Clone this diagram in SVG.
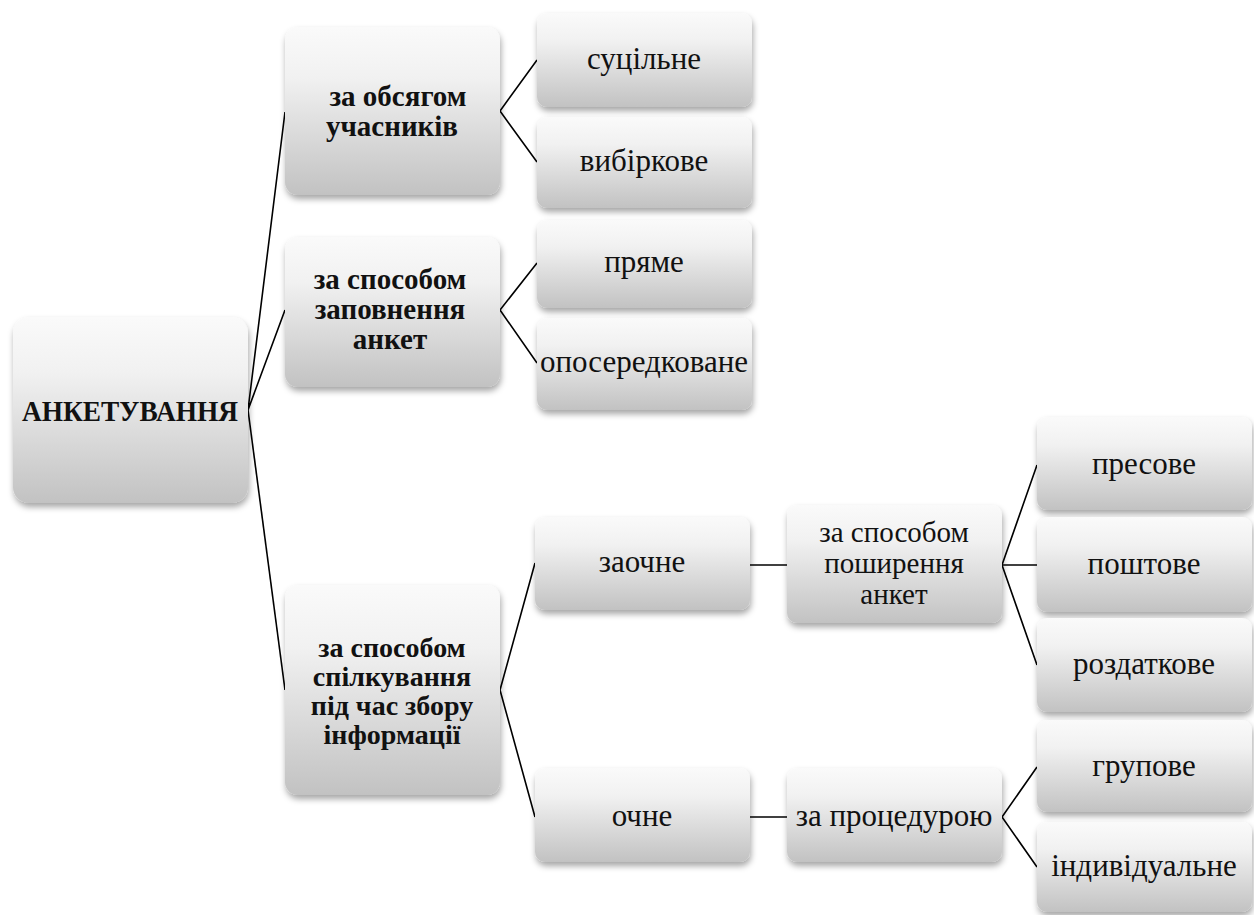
<svg xmlns="http://www.w3.org/2000/svg" width="1254" height="915" viewBox="0 0 1254 915">
  <defs>
    <linearGradient id="boxFill" x1="0" y1="0" x2="0" y2="1">
      <stop offset="0" stop-color="#fafafa"/>
      <stop offset="0.3" stop-color="#f1f1f1"/>
      <stop offset="1" stop-color="#c2c2c2"/>
    </linearGradient>
    <filter id="shadow" x="-10%" y="-10%" width="125%" height="130%">
      <feDropShadow dx="1" dy="4" stdDeviation="3" flood-color="#000" flood-opacity="0.35"/>
    </filter>
  </defs>
  <style>
    .box { fill: url(#boxFill); filter: url(#shadow); }
    .conn { stroke: #000; stroke-width: 1.6; fill: none; }
  </style>
  <rect width="1254" height="915" fill="#fff"/>

  <!-- connectors -->
  <g id="connectors" class="conn">
    <polyline points="285,112 248,410 285,310"/>
    <line x1="248" y1="410" x2="285" y2="690"/>
    <polyline points="537,60 500,111 537,162"/>
    <polyline points="537,263 500,310 537,363"/>
    <polyline points="535,563 500,690 535,817"/>
    <line x1="750" y1="565" x2="787" y2="565"/>
    <line x1="750" y1="817" x2="787" y2="817"/>
    <polyline points="1037,465 1002,565 1037,665"/>
    <line x1="1002" y1="565" x2="1037" y2="565"/>
    <polyline points="1037,767 1002,817 1037,867"/>
  </g>

  <!-- nodes: shared text settings -->
  <g font-family="'Liberation Serif', serif" fill="#111" text-anchor="middle" font-size="31">

    <g id="node-root">
      <rect class="box" x="13" y="317" width="235" height="186" rx="16"/>
      <text x="130" y="421" font-weight="bold" font-size="29" textLength="216" lengthAdjust="spacingAndGlyphs">АНКЕТУВАННЯ</text>
    </g>

    <g id="node-volume" font-weight="bold" font-size="29">
      <rect class="box" x="285" y="27" width="215" height="168" rx="13"/>
      <text x="398" y="106">за обсягом</text>
      <text x="392" y="136">учасників</text>
    </g>
    <g id="node-filling" font-weight="bold" font-size="29">
      <rect class="box" x="285" y="237" width="215" height="150" rx="13"/>
      <text x="390" y="289">за способом</text>
      <text x="390" y="319">заповнення</text>
      <text x="390" y="349">анкет</text>
    </g>
    <g id="node-communication" font-weight="bold" font-size="28">
      <rect class="box" x="285" y="585" width="215" height="210" rx="13"/>
      <text x="392" y="657">за способом</text>
      <text x="392" y="686">спілкування</text>
      <text x="392" y="715">під час збору</text>
      <text x="392" y="744">інформації</text>
    </g>

    <g id="node-total">
      <rect class="box" x="537" y="13" width="215" height="94" rx="10"/>
      <text x="644" y="69">суцільне</text>
    </g>
    <g id="node-sample">
      <rect class="box" x="537" y="117" width="215" height="91" rx="10"/>
      <text x="644" y="171">вибіркове</text>
    </g>
    <g id="node-direct">
      <rect class="box" x="537" y="220" width="215" height="88" rx="10"/>
      <text x="644" y="272">пряме</text>
    </g>
    <g id="node-indirect">
      <rect class="box" x="537" y="318" width="215" height="92" rx="10"/>
      <text x="644" y="372">опосередковане</text>
    </g>

    <g id="node-absentee">
      <rect class="box" x="535" y="517" width="215" height="93" rx="10"/>
      <text x="642" y="572">заочне</text>
    </g>
    <g id="node-distribution" font-size="29">
      <rect class="box" x="787" y="505" width="215" height="118" rx="10"/>
      <text x="894" y="542">за способом</text>
      <text x="894" y="573">поширення</text>
      <text x="894" y="604">анкет</text>
    </g>
    <g id="node-inperson">
      <rect class="box" x="535" y="768" width="215" height="94" rx="10"/>
      <text x="642" y="826">очне</text>
    </g>
    <g id="node-procedure">
      <rect class="box" x="787" y="768" width="215" height="94" rx="10"/>
      <text x="894" y="826">за процедурою</text>
    </g>

    <g id="node-press">
      <rect class="box" x="1037" y="417" width="215" height="93" rx="10"/>
      <text x="1144" y="474">пресове</text>
    </g>
    <g id="node-postal">
      <rect class="box" x="1037" y="517" width="215" height="95" rx="10"/>
      <text x="1144" y="574">поштове</text>
    </g>
    <g id="node-handout">
      <rect class="box" x="1037" y="618" width="215" height="94" rx="10"/>
      <text x="1144" y="674">роздаткове</text>
    </g>
    <g id="node-group">
      <rect class="box" x="1037" y="720" width="215" height="92" rx="10"/>
      <text x="1144" y="776">групове</text>
    </g>
    <g id="node-individual">
      <rect class="box" x="1037" y="822" width="215" height="90" rx="10"/>
      <text x="1144" y="876">індивідуальне</text>
    </g>
  </g>
</svg>
